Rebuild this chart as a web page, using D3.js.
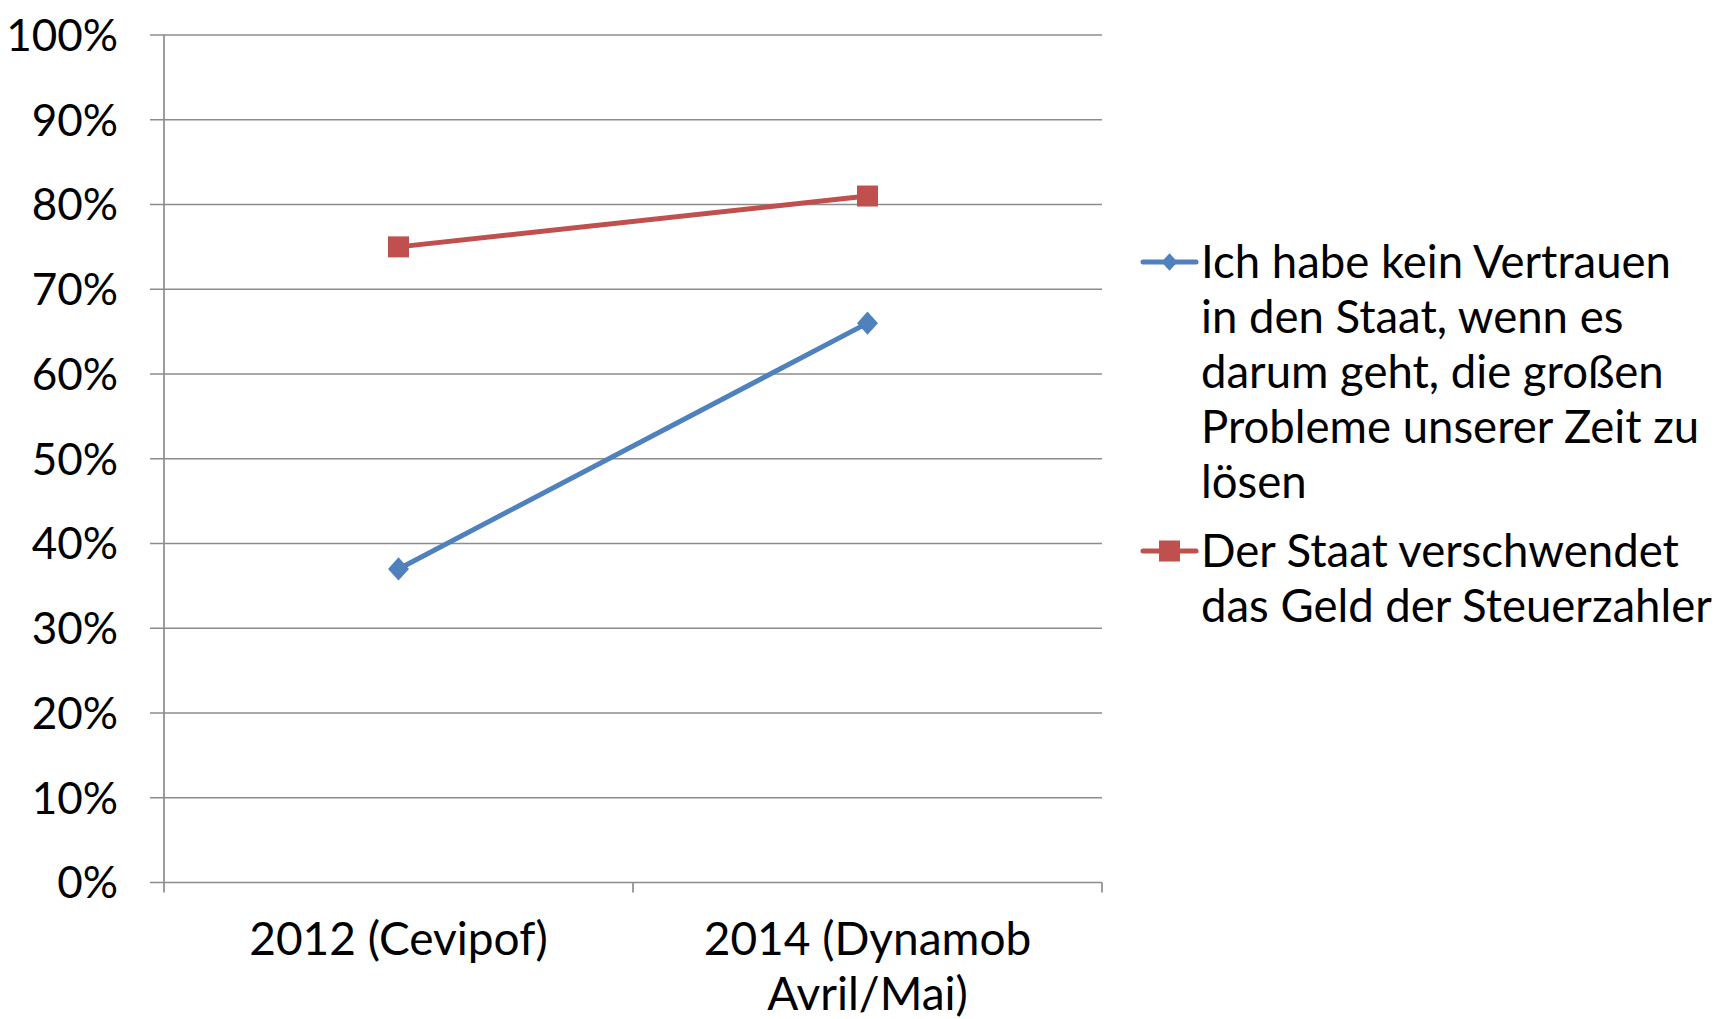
<!DOCTYPE html>
<html>
<head>
<meta charset="utf-8">
<script src="https://cdn.jsdelivr.net/npm/d3@7"></script>
<style>
  body { margin: 0; background: #fff; }
  svg text { font-family: Lato, "Open Sans", sans-serif; fill: #000; }
</style>
</head>
<body>
<svg id="chart" width="1717" height="1019"></svg>
<script>
const categories = ['2012 (Cevipof)', '2014 (Dynamob Avril/Mai)'];
const categoryLines = [['2012 (Cevipof)'], ['2014 (Dynamob', 'Avril/Mai)']];
const seriesNames = [
  'Ich habe kein Vertrauen in den Staat, wenn es darum geht, die großen Probleme unserer Zeit zu lösen',
  'Der Staat verschwendet das Geld der Steuerzahler'
];
const legendLines = [
  ['Ich habe kein Vertrauen', 'in den Staat, wenn es', 'darum geht, die großen', 'Probleme unserer Zeit zu', 'lösen'],
  ['Der Staat verschwendet', 'das Geld der Steuerzahler']
];
const vertrauenValues = [0.37, 0.66];
const verschwendetValues = [0.75, 0.81];
const yTicks = [0, 0.1, 0.2, 0.3, 0.4, 0.5, 0.6, 0.7, 0.8, 0.9, 1.0];
const colors = ['#4f81bd', '#c0504d'];

const series = [
  { name: seriesNames[0], values: vertrauenValues, color: colors[0], shape: 'diamond' },
  { name: seriesNames[1], values: verschwendetValues, color: colors[1], shape: 'square' }
];

let svg = d3.select('#chart');
let plotLeft = 164, plotRight = 1102, plotTop = 35, plotBottom = 882.5;

let x = d3.scaleBand().domain(categories).range([plotLeft, plotRight]).padding(0);
let y = d3.scaleLinear().domain([0, 1]).range([plotBottom, plotTop]);

// gridlines
svg.append('g')
  .selectAll('line')
  .data(yTicks)
  .join('line')
  .attr('x1', plotLeft - 14)
  .attr('x2', plotRight)
  .attr('y1', (d) => y(d))
  .attr('y2', (d) => y(d))
  .attr('stroke', '#8c8c8c')
  .attr('stroke-width', 1.7);

// y axis line
svg.append('line')
  .attr('x1', plotLeft).attr('x2', plotLeft)
  .attr('y1', plotTop).attr('y2', plotBottom + 10)
  .attr('stroke', '#8c8c8c')
  .attr('stroke-width', 1.7);

// x ticks at band edges
let edges = categories.map((c) => x(c)).concat([plotRight]);
svg.append('g')
  .selectAll('line')
  .data(edges.slice(1))
  .join('line')
  .attr('x1', (d) => d).attr('x2', (d) => d)
  .attr('y1', plotBottom).attr('y2', plotBottom + 10)
  .attr('stroke', '#8c8c8c')
  .attr('stroke-width', 1.7);

// y labels
svg.append('g')
  .selectAll('text')
  .data(yTicks)
  .join('text')
  .attr('x', 118)
  .attr('y', (d) => y(d))
  .attr('dy', '0.36em')
  .attr('text-anchor', 'end')
  .style('font-size', '44px')
  .text((d) => d3.format('.0%')(d));

// x labels
categoryLines.forEach((lines, i) => {
  let cx = x(categories[i]) + x.bandwidth() / 2;
  svg.append('text')
    .attr('text-anchor', 'middle')
    .style('font-size', '46px')
    .selectAll('tspan')
    .data(lines)
    .join('tspan')
    .attr('x', cx)
    .attr('y', (d, j) => 955 + j * 55)
    .text((d) => d);
});

function marker(g, shape, color, size) {
  if (shape === 'square') {
    g.append('rect')
      .attr('x', -size / 2).attr('y', -size / 2)
      .attr('width', size).attr('height', size)
      .attr('fill', color);
  } else {
    let h = size / 2;
    g.append('path')
      .attr('d', `M0,${-h * 1.1}L${h},0L0,${h * 1.1}L${-h},0Z`)
      .attr('fill', color);
  }
}

let line = d3.line()
  .x((d, i) => x(categories[i]) + x.bandwidth() / 2)
  .y((d) => y(d));

series.forEach((s) => {
  svg.append('path')
    .datum(s.values)
    .attr('fill', 'none')
    .attr('stroke', s.color)
    .attr('stroke-width', 5)
    .attr('stroke-linecap', 'round')
    .attr('d', line);
  s.values.forEach((v, i) => {
    let g = svg.append('g')
      .attr('transform', `translate(${x(categories[i]) + x.bandwidth() / 2},${y(v)})`);
    marker(g, s.shape, s.color, 21);
  });
});

// legend
let legendTop = [262, 551];
series.forEach((s, k) => {
  let ly = legendTop[k];
  svg.append('line')
    .attr('x1', 1143).attr('x2', 1196)
    .attr('y1', ly).attr('y2', ly)
    .attr('stroke', s.color)
    .attr('stroke-width', 5)
    .attr('stroke-linecap', 'round');
  let g = svg.append('g').attr('transform', `translate(1169.5,${ly})`);
  marker(g, s.shape, s.color, s.shape === 'square' ? 21 : 16);
  svg.append('text')
    .style('font-size', '45.5px')
    .selectAll('tspan')
    .data(legendLines[k])
    .join('tspan')
    .attr('x', 1201)
    .attr('y', (d, j) => ly + 16 + j * 55)
    .text((d) => d);
});
</script>
</body>
</html>
